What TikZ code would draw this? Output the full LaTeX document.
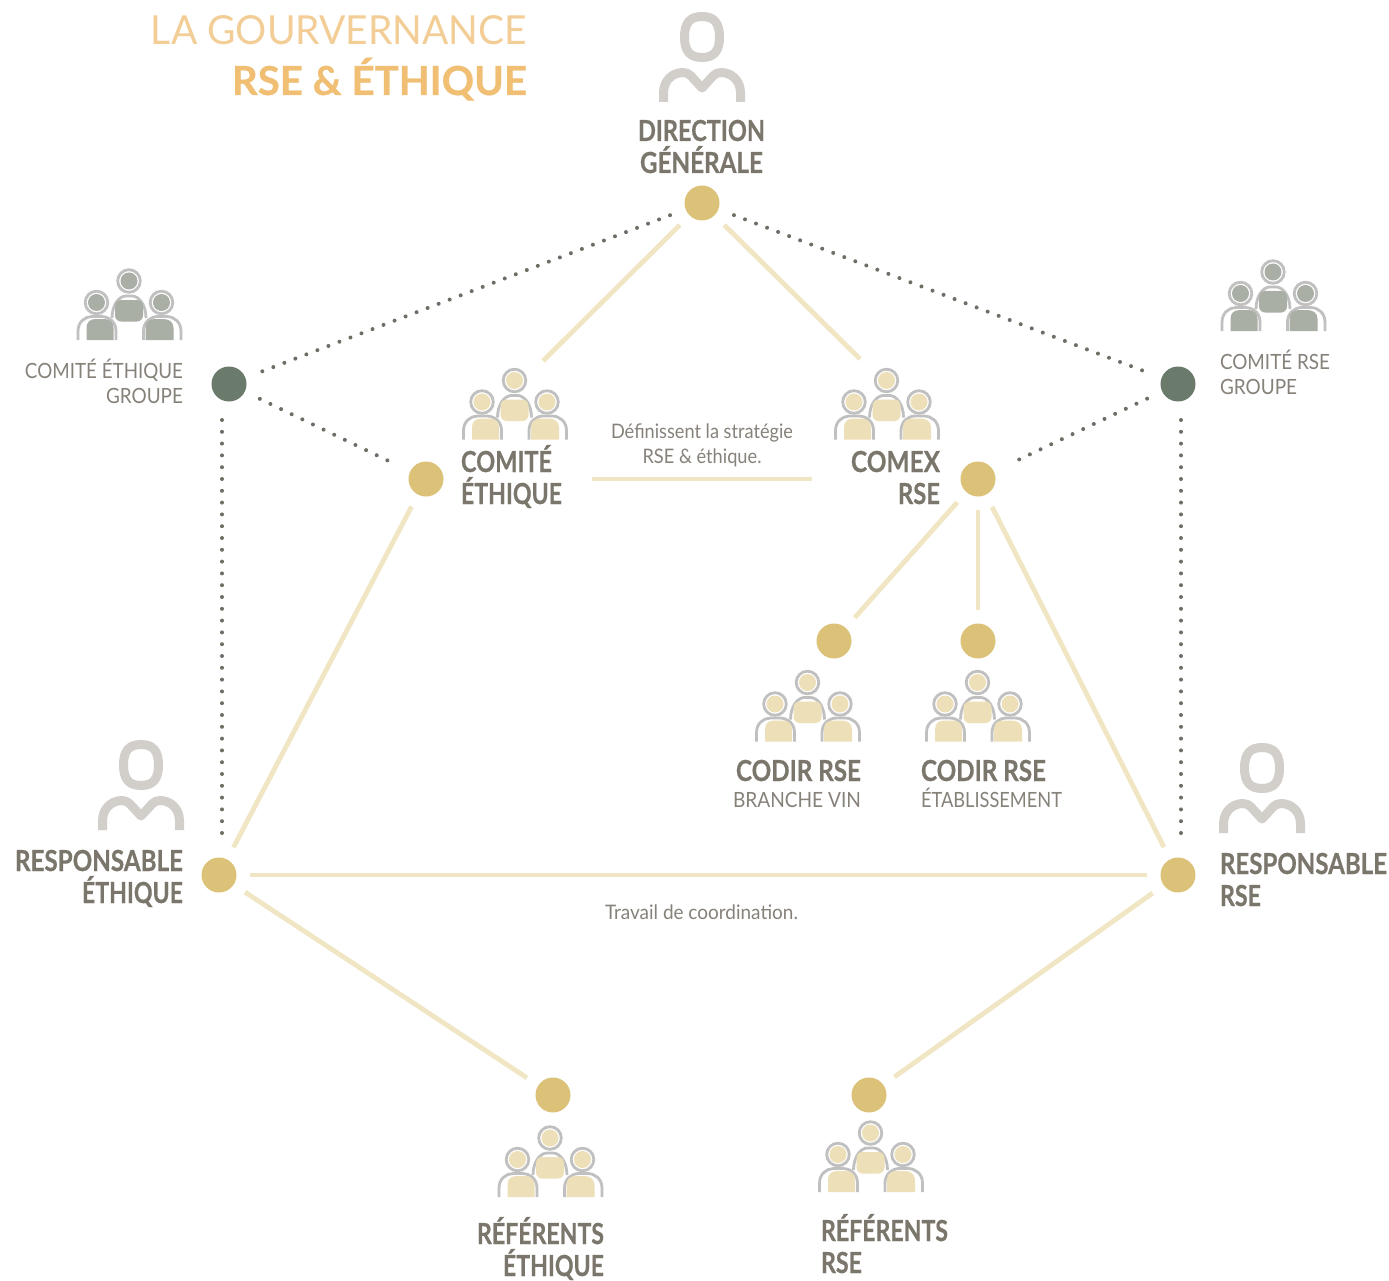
\documentclass[tikz,border=0pt]{standalone}
\usepackage{fontspec}
\usepackage{graphicx}
\setmainfont[BoldFeatures={FakeBold=0.6}]{Lato}
\definecolor{dotgold}{HTML}{DCC278}
\definecolor{dotgreen}{HTML}{6A7A6B}
\definecolor{linktan}{HTML}{F0E6C3}
\definecolor{dotgrey}{HTML}{6E6E66}
\definecolor{boldgrey}{HTML}{7A766C}
\definecolor{lightgrey}{HTML}{86827A}
\definecolor{personc}{HTML}{D2CFCB}
\definecolor{groupc}{HTML}{C0C0C0}
\definecolor{tanfill}{HTML}{EDDFB8}
\definecolor{greenfill}{HTML}{A9AFA5}
\definecolor{titlea}{HTML}{F3CD96}
\definecolor{titleb}{HTML}{F0BF73}
\newcommand{\Fw}[2]{\smash{\resizebox{#1pt}{\height}{#2}}}
\tikzset{
  x=1pt,y=-1pt,
  pt/.style={circle,fill=#1,minimum size=35pt,inner sep=0pt},
  link/.style={draw=linktan,line width=4.8pt,shorten <=13.5pt,shorten >=13.5pt},
  dotlink/.style={draw=dotgrey,line width=4pt,line cap=round,dash pattern=on 0pt off 11.8pt,shorten <=16.5pt,shorten >=16.5pt},
  lbl/.style={inner sep=0pt,outer sep=0pt},
  boldlbl/.style={lbl,text=boldgrey,font=\fontsize{29}{32}\selectfont\bfseries},
  lightlbl/.style={lbl,text=lightgrey,font=\fontsize{21}{25}\selectfont},
  pics/person/.style={code={
    \draw[personc,line width=9pt] (0,-20.5) .. controls (12.5,-20.5) and (17.5,-13.5) .. (17.5,0) .. controls (17.5,13.5) and (12.5,20.5) .. (0,20.5) .. controls (-12.5,20.5) and (-17.5,13.5) .. (-17.5,0) .. controls (-17.5,-13.5) and (-12.5,-20.5) .. (0,-20.5) -- cycle;
    \draw[personc,line width=9pt,line join=round] (-38.5,65) -- (-38.5,56) .. controls (-38.5,43) and (-29,35.5) .. (-19,35.5) .. controls (-15.5,35.5) and (-13,37) .. (-11,39) -- (0,51) -- (11,39) .. controls (13,37) and (15.5,35.5) .. (19,35.5) .. controls (29,35.5) and (38.5,43) .. (38.5,56) -- (38.5,65);
  }},
  pics/group/.style={code={
    \foreach \hx/\hy in {0/0,-32.5/21.5,32.5/21.5}{
      \draw[groupc,line width=2.8pt] (\hx,\hy) circle [radius=11.3];
      \fill[#1] (\hx,\hy) circle [radius=8.5];
    }
    \draw[groupc,line width=2.8pt] (-17,37) .. controls (-17,24) and (-10,15) .. (-3,15) -- (3,15) .. controls (10,15) and (17,24) .. (17,37);
    \fill[#1,rounded corners=6pt] (-14,19) rectangle (14,40.5);
    \draw[groupc,line width=2.8pt] (-51,59) -- (-51,50) .. controls (-51,41) and (-44,35.5) .. (-37,35.5) -- (-28,35.5) .. controls (-20,35.5) and (-13,41) .. (-13,50) -- (-13,59);
    \draw[groupc,line width=2.8pt] (14.5,59) -- (14.5,50) .. controls (14.5,41) and (21.5,35.5) .. (29,35.5) -- (37.5,35.5) .. controls (45,35.5) and (52,41) .. (52,50) -- (52,59);
    \fill[#1] (-42.5,59) -- (-42.5,47) .. controls (-42.5,41) and (-39,38) .. (-33,38) -- (-25,38) .. controls (-19,38) and (-15.5,41) .. (-15.5,47) -- (-15.5,59) -- cycle;
    \fill[#1] (16.5,59) -- (16.5,47) .. controls (16.5,41) and (20,38) .. (26,38) -- (34,38) .. controls (40,38) and (44.5,41) .. (44.5,47) -- (44.5,59) -- cycle;
  }},
}
\begin{document}
\begin{tikzpicture}
\path[use as bounding box,fill=white] (0,0) rectangle (1389,1281);
% free ends of the connectors
\coordinate (ceicon) at (543,361);
\coordinate (cxicon) at (860,359);
\coordinate (dlb) at (222,384);
\coordinate (reb) at (222,875);
\coordinate (drb) at (1181,384);
\coordinate (rrb) at (1181,875);
% dots
\node[pt=dotgold]  (dg)  at (702,203) {};
\node[pt=dotgreen] (dl)  at (229,384) {};
\node[pt=dotgreen] (dr)  at (1178,384) {};
\node[pt=dotgold]  (ce)  at (426,479) {};
\node[pt=dotgold]  (cx)  at (978,479) {};
\node[pt=dotgold]  (cv)  at (834,641) {};
\node[pt=dotgold]  (ct)  at (978,641) {};
\node[pt=dotgold]  (re)  at (219,875) {};
\node[pt=dotgold]  (rr)  at (1178,875) {};
\node[pt=dotgold]  (fe)  at (553,1095) {};
\node[pt=dotgold]  (fr)  at (869,1095) {};
% solid connectors
\draw[link,shorten >=0pt] (dg) -- (ceicon);
\draw[link,shorten >=0pt] (dg) -- (cxicon);
\draw[link,shorten <=148.5pt,shorten >=148.5pt] (ce) -- (cx);
\draw[link] (ce) -- (re);
\draw[link] (cx) -- (cv);
\draw[link] (cx) -- (ct);
\draw[link] (cx) -- (rr);
\draw[link] (re) -- (rr);
\draw[link] (re) -- (fe);
\draw[link] (rr) -- (fr);
% dotted connectors
\draw[dotlink] (dg) -- (dl);
\draw[dotlink] (dg) -- (dr);
\draw[dotlink] (dl) -- (ce);
\draw[dotlink] (dr) -- (cx);
\draw[dotlink,shorten <=36pt,shorten >=34pt] (dlb) -- (reb);
\draw[dotlink,shorten <=36pt,shorten >=34pt] (drb) -- (rrb);
% icons
\pic at (702,37) {person};
\pic at (141,765) {person};
\pic at (1262,768) {person};
\pic at (129,281) {group=greenfill};
\pic at (1273,272) {group=greenfill};
\pic at (514.5,380.5) {group=tanfill};
\pic at (886.5,380.5) {group=tanfill};
\pic at (807.5,682.5) {group=tanfill};
\pic at (977.5,682.5) {group=tanfill};
\pic at (550,1138) {group=tanfill};
\pic at (870.5,1133) {group=tanfill};
% title
\node[lbl,anchor=base east,text=titlea,font=\fontsize{40}{50}\selectfont] (t1) at (527,45) {\Fw{376}{LA GOURVERNANCE}};
\node[lbl,anchor=base east,text=titleb,font=\fontsize{40}{50}\selectfont\bfseries] (t2) at (527,95) {\Fw{295}{RSE \& ÉTHIQUE}};
% labels
\node[boldlbl,anchor=base] (l1) at (701.5,141) {\begin{tabular}[t]{@{}c@{}}\Fw{127}{DIRECTION}\\\Fw{123}{GÉNÉRALE}\end{tabular}};
\node[boldlbl,anchor=base west] (l2) at (461,472) {\begin{tabular}[t]{@{}l@{}}\Fw{91}{COMITÉ}\\\Fw{101}{ÉTHIQUE}\end{tabular}};
\node[boldlbl,anchor=base east] (l3) at (940,472) {\begin{tabular}[t]{@{}r@{}}\Fw{89}{COMEX}\\\Fw{42}{RSE}\end{tabular}};
\node[boldlbl,anchor=base east] (l4) at (861,781) {\Fw{125}{CODIR RSE}};
\node[lightlbl,anchor=base east] (l5) at (861,807) {\Fw{128}{BRANCHE VIN}};
\node[boldlbl,anchor=base west] (l6) at (921,781) {\Fw{125}{CODIR RSE}};
\node[lightlbl,anchor=base west] (l7) at (921,807) {\Fw{141}{ÉTABLISSEMENT}};
\node[boldlbl,anchor=base east] (l8) at (183,871) {\begin{tabular}[t]{@{}r@{}}\Fw{168}{RESPONSABLE}\\\Fw{101}{ÉTHIQUE}\end{tabular}};
\node[boldlbl,anchor=base west] (l9) at (1220,874) {\begin{tabular}[t]{@{}l@{}}\Fw{167}{RESPONSABLE}\\\Fw{41}{RSE}\end{tabular}};
\node[boldlbl,anchor=base east] (l10) at (604,1244) {\begin{tabular}[t]{@{}r@{}}\Fw{127}{RÉFÉRENTS}\\\Fw{101}{ÉTHIQUE}\end{tabular}};
\node[boldlbl,anchor=base west] (l11) at (821,1241) {\begin{tabular}[t]{@{}l@{}}\Fw{127}{RÉFÉRENTS}\\\Fw{41}{RSE}\end{tabular}};
\node[lightlbl,anchor=base east] (l12) at (183,378) {\begin{tabular}[t]{@{}r@{}}\Fw{158}{COMITÉ ÉTHIQUE}\\\Fw{77}{GROUPE}\end{tabular}};
\node[lightlbl,anchor=base west] (l13) at (1220,369) {\begin{tabular}[t]{@{}l@{}}\Fw{110}{COMITÉ RSE}\\\Fw{77}{GROUPE}\end{tabular}};
\node[lightlbl,anchor=base,font=\fontsize{20}{25}\selectfont] (l14) at (702,438) {\begin{tabular}[t]{@{}c@{}}\Fw{182}{Définissent la stratégie}\\\Fw{119}{RSE \& éthique.}\end{tabular}};
\node[lightlbl,anchor=base,font=\fontsize{20}{25}\selectfont] (l15) at (701.5,919) {\Fw{193}{Travail de coordination.}};
\end{tikzpicture}
\end{document}
